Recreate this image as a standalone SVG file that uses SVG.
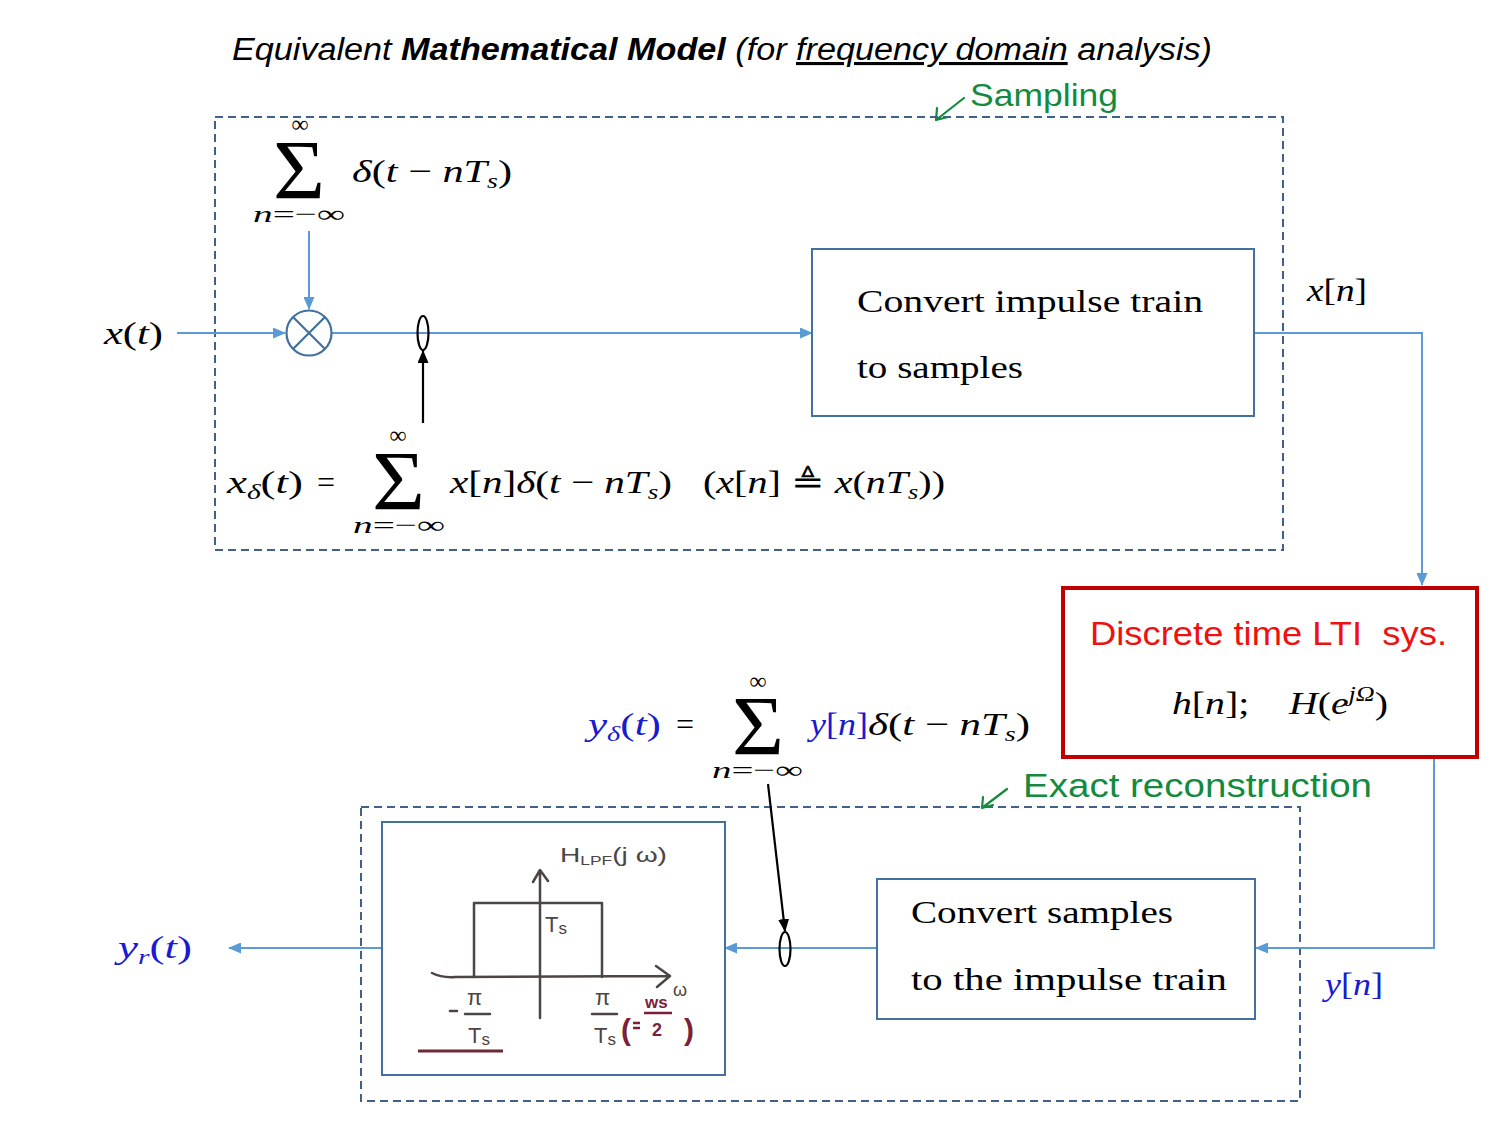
<svg xmlns="http://www.w3.org/2000/svg" width="1500" height="1125" viewBox="0 0 1500 1125">
<defs>
<marker id="ab" markerWidth="13" markerHeight="11" refX="12" refY="5.5" orient="auto" markerUnits="userSpaceOnUse"><path d="M0,0 L13,5.5 L0,11 z" fill="#5b9bd5"/></marker>
<marker id="ak" markerWidth="13" markerHeight="11" refX="12" refY="5.5" orient="auto" markerUnits="userSpaceOnUse"><path d="M0,0 L13,5.5 L0,11 z" fill="#000"/></marker>
</defs>
<style>
.conn{fill:none;stroke:#5b9bd5;stroke-width:2}
.kconn{fill:none;stroke:#000;stroke-width:2.2}
.node{fill:#fff;stroke:#41719c;stroke-width:2}
.dash{fill:none;stroke:#41608a;stroke-width:2;stroke-dasharray:8 5}
.m{font-family:"Liberation Serif",serif;font-size:32px;fill:#000;white-space:pre}
.i{font-style:italic}
.sub{font-size:21px;font-style:italic}
.sig{font-family:"Liberation Serif",serif;font-size:84px;fill:#000}
.lim{font-family:"Liberation Serif",serif;font-size:24px;fill:#000}
.blue{fill:#1a1ad0}
.hw{font-family:"Liberation Sans",sans-serif;fill:#138a3e}
.hwl{fill:none;stroke:#138a3e;stroke-width:2.2;stroke-linecap:round;stroke-linejoin:round}
.pen{stroke:#4d4444;stroke-width:2.5;fill:none;stroke-linecap:round;stroke-linejoin:round}
.pent{font-family:"Liberation Sans",sans-serif;fill:#4d4444}
.penr{font-family:"Liberation Sans",sans-serif;fill:#7b1f3a;font-weight:bold}
</style>

<!-- Title -->
<text x="232" y="60" font-family="Liberation Sans, sans-serif" font-size="31" font-style="italic" textLength="980" lengthAdjust="spacingAndGlyphs">Equivalent <tspan font-weight="bold">Mathematical Model</tspan> (for <tspan text-decoration="underline">frequency domain</tspan> analysis)</text>

<!-- Sampling annotation -->
<g id="sampling-label">
<path class="hwl" d="M964,98 L936,120 M936,120 L937,108 M936,120 L948,117"/>
<text class="hw" x="970" y="106" font-size="32" textLength="148" lengthAdjust="spacingAndGlyphs">Sampling</text>
</g>

<!-- Dashed group boxes -->
<rect id="sampling-box" class="dash" x="215" y="117" width="1068" height="433"/>
<rect id="reconstruction-box" class="dash" x="361" y="807" width="939" height="294"/>

<!-- Connectors -->
<g id="connectors">
<path class="conn" d="M177,333 L285,333" marker-end="url(#ab)"/>
<path class="conn" d="M309,231 L309,309" marker-end="url(#ab)"/>
<path class="conn" d="M332,333 L812,333" marker-end="url(#ab)"/>
<path class="conn" d="M1254,333 L1422,333 L1422,585" marker-end="url(#ab)"/>
<path class="conn" d="M1434,757 L1434,948 L1256,948" marker-end="url(#ab)"/>
<path class="conn" d="M877,948 L725,948" marker-end="url(#ab)"/>
<path class="conn" d="M382,948 L229,948" marker-end="url(#ab)"/>
<path class="kconn" d="M423,423 L423,351" marker-end="url(#ak)"/>
<path class="kconn" d="M768,784 L785,931" marker-end="url(#ak)"/>
</g>

<!-- Impulse train source formula -->
<g id="impulse-train">
<text class="lim" x="300" y="132" text-anchor="middle">∞</text>
<text class="sig" x="273" y="199" textLength="52" lengthAdjust="spacingAndGlyphs">Σ</text>
<text class="lim" x="253" y="222" textLength="92" lengthAdjust="spacingAndGlyphs"><tspan class="i">n</tspan>=−∞</text>
<text class="m" x="352" y="182" textLength="160" lengthAdjust="spacingAndGlyphs"><tspan class="i">δ</tspan>(<tspan class="i">t</tspan> − <tspan class="i">nT</tspan><tspan class="sub" dy="6">s</tspan><tspan dy="-6">)</tspan></text>
</g>

<!-- Input -->
<text id="x-t" class="m" x="104" y="344" textLength="59" lengthAdjust="spacingAndGlyphs"><tspan class="i">x</tspan>(<tspan class="i">t</tspan>)</text>

<!-- Multiplier -->
<g id="multiplier">
<circle cx="309" cy="333" r="22.5" fill="#fff" stroke="#41719c" stroke-width="2.2"/>
<path d="M293,317 L325,349 M325,317 L293,349" stroke="#41719c" stroke-width="2.2"/>
</g>

<!-- Sampling switches -->
<ellipse id="switch-top" cx="423" cy="333" rx="5.5" ry="17" fill="none" stroke="#000" stroke-width="2.2"/>
<ellipse id="switch-bottom" cx="785" cy="949" rx="5.5" ry="17" fill="none" stroke="#000" stroke-width="2.2"/>

<!-- Convert impulse train to samples -->
<g id="convert-to-samples">
<rect class="node" x="812" y="249" width="442" height="167"/>
<text class="m" x="857" y="312" font-size="36" textLength="346" lengthAdjust="spacingAndGlyphs">Convert impulse train</text>
<text class="m" x="857" y="378" font-size="36" textLength="166" lengthAdjust="spacingAndGlyphs">to samples</text>
</g>

<text id="x-n" class="m" x="1307" y="301" textLength="60" lengthAdjust="spacingAndGlyphs"><tspan class="i">x</tspan>[<tspan class="i">n</tspan>]</text>

<!-- x_delta formula -->
<g id="x-delta-formula">
<text class="m" x="227" y="493" textLength="76" lengthAdjust="spacingAndGlyphs"><tspan class="i">x</tspan><tspan class="sub" dy="6">δ</tspan><tspan dy="-6">(</tspan><tspan class="i">t</tspan>)</text>
<text class="m" x="317" y="493" font-size="34">=</text>
<text class="lim" x="398" y="443" text-anchor="middle">∞</text>
<text class="sig" x="372" y="510" textLength="53" lengthAdjust="spacingAndGlyphs">Σ</text>
<text class="lim" x="353" y="533" textLength="92" lengthAdjust="spacingAndGlyphs"><tspan class="i">n</tspan>=−∞</text>
<text class="m" x="450" y="493" textLength="222" lengthAdjust="spacingAndGlyphs"><tspan class="i">x</tspan>[<tspan class="i">n</tspan>]<tspan class="i">δ</tspan>(<tspan class="i">t</tspan> − <tspan class="i">nT</tspan><tspan class="sub" dy="6">s</tspan><tspan dy="-6">)</tspan></text>
<text class="m" x="703" y="493" textLength="242" lengthAdjust="spacingAndGlyphs">(<tspan class="i">x</tspan>[<tspan class="i">n</tspan>] ≜ <tspan class="i">x</tspan>(<tspan class="i">nT</tspan><tspan class="sub" dy="6">s</tspan><tspan dy="-6">))</tspan></text>
</g>

<!-- Discrete time LTI system -->
<g id="lti-system">
<rect x="1063" y="588" width="414" height="169" fill="#fff" stroke="#c00000" stroke-width="4"/>
<text x="1090" y="645" font-family="Liberation Sans, sans-serif" font-size="33" fill="#ee1111" style="white-space:pre" textLength="357" lengthAdjust="spacingAndGlyphs">Discrete time LTI  sys.</text>
<text class="m" x="1172" y="714" textLength="216" lengthAdjust="spacingAndGlyphs"><tspan class="i">h</tspan>[<tspan class="i">n</tspan>];    <tspan class="i">H</tspan>(<tspan class="i">e</tspan><tspan font-size="21" class="i" dy="-13">jΩ</tspan><tspan dy="13">)</tspan></text>
</g>

<!-- y_delta formula -->
<g id="y-delta-formula">
<text class="m blue" x="588" y="735" textLength="73" lengthAdjust="spacingAndGlyphs"><tspan class="i">y</tspan><tspan class="sub" dy="6">δ</tspan><tspan dy="-6">(</tspan><tspan class="i">t</tspan>)</text>
<text class="m" x="676" y="735" font-size="34">=</text>
<text class="lim" x="758" y="689" text-anchor="middle">∞</text>
<text class="sig" x="732" y="755" textLength="52" lengthAdjust="spacingAndGlyphs">Σ</text>
<text class="lim" x="712" y="778" textLength="91" lengthAdjust="spacingAndGlyphs"><tspan class="i">n</tspan>=−∞</text>
<text class="m blue" x="810" y="735" textLength="58" lengthAdjust="spacingAndGlyphs"><tspan class="i">y</tspan>[<tspan class="i">n</tspan>]</text>
<text class="m" x="868" y="735" textLength="162" lengthAdjust="spacingAndGlyphs"><tspan class="i">δ</tspan>(<tspan class="i">t</tspan> − <tspan class="i">nT</tspan><tspan class="sub" dy="6">s</tspan><tspan dy="-6">)</tspan></text>
</g>

<!-- Exact reconstruction annotation -->
<g id="reconstruction-label">
<path class="hwl" d="M1007,789 L982,808 M982,808 L983,797 M982,808 L993,805"/>
<text class="hw" x="1023" y="797" font-size="34" textLength="349" lengthAdjust="spacingAndGlyphs">Exact reconstruction</text>
</g>

<!-- LPF box -->
<g id="lpf">
<rect class="node" x="382" y="822" width="343" height="253"/>
<path class="pen" d="M540,1018 L540,872 M533,882 L540,870 L548,881"/>
<path class="pen" d="M432,973 Q442,978 455,977 L668,976 M656,966 L670,976 L657,987"/>
<path class="pen" d="M474,977 L474,903 L602,903 L602,977"/>
<text class="pent" x="560" y="862" font-size="21" textLength="107" lengthAdjust="spacingAndGlyphs">H<tspan font-size="13" dy="3">LPF</tspan><tspan dy="-3">(j ω)</tspan></text>
<text class="pent" x="545" y="932" font-size="22">T<tspan font-size="17" dy="2">s</tspan></text>
<text class="pent" x="673" y="996" font-size="18">ω</text>
<path class="pen" d="M450,1011 L457,1011 M465,1014 L490,1014 M592,1014 L617,1014"/>
<text class="pent" x="467" y="1005" font-size="22">π</text>
<text class="pent" x="468" y="1043" font-size="22">T<tspan font-size="17" dy="2">s</tspan></text>
<text class="pent" x="595" y="1005" font-size="22">π</text>
<text class="pent" x="594" y="1043" font-size="22">T<tspan font-size="17" dy="2">s</tspan></text>
<text class="penr" x="621" y="1040" font-size="30" font-weight="normal">(</text>
<path d="M633,1023 L640,1023 M633,1028 L640,1028 M644,1013 L672,1013" stroke="#7b1f3a" stroke-width="2.5" fill="none"/>
<text class="penr" x="645" y="1008" font-size="17">ws</text>
<text class="penr" x="652" y="1036" font-size="18">2</text>
<text class="penr" x="684" y="1040" font-size="30" font-weight="normal">)</text>
<path d="M418,1051 L503,1051" stroke="#6a2b35" stroke-width="3"/>
</g>

<!-- Convert samples to impulse train -->
<g id="convert-to-impulse">
<rect class="node" x="877" y="879" width="378" height="140"/>
<text class="m" x="911" y="923" font-size="36" textLength="262" lengthAdjust="spacingAndGlyphs">Convert samples</text>
<text class="m" x="911" y="990" font-size="36" textLength="316" lengthAdjust="spacingAndGlyphs">to the impulse train</text>
</g>

<text id="y-n" class="m blue" x="1325" y="995" textLength="58" lengthAdjust="spacingAndGlyphs"><tspan class="i">y</tspan>[<tspan class="i">n</tspan>]</text>
<text id="y-r" class="m blue" x="118" y="958" textLength="74" lengthAdjust="spacingAndGlyphs"><tspan class="i">y</tspan><tspan class="sub" dy="6">r</tspan><tspan dy="-6">(</tspan><tspan class="i">t</tspan>)</text>
</svg>
